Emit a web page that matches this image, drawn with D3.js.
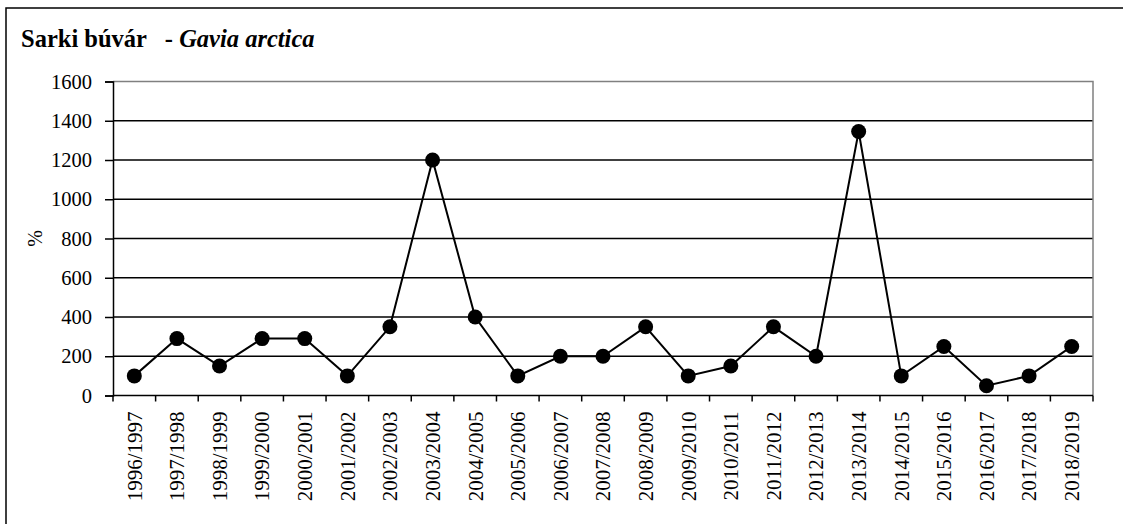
<!DOCTYPE html>
<html><head><meta charset="utf-8">
<script src="https://cdn.jsdelivr.net/npm/d3@7/dist/d3.min.js"></script>
<style>body{margin:0;background:#fff}svg{display:block}</style>
</head><body>
<script>
const categories = ["1996/1997","1997/1998","1998/1999","1999/2000","2000/2001","2001/2002","2002/2003","2003/2004","2004/2005","2005/2006","2006/2007","2007/2008","2008/2009","2009/2010","2010/2011","2011/2012","2012/2013","2013/2014","2014/2015","2015/2016","2016/2017","2017/2018","2018/2019"];
const values = [100,290,150,290,290,100,350,1200,400,100,200,200,350,100,150,350,200,1345,100,250,50,100,250];
const yTicks = [0,200,400,600,800,1000,1200,1400,1600];
const titleMain = "Sarki búvár   - ";
const titleLatin = "Gavia arctica";
const yTitle = "%";

(function(){
const FONT = "'Liberation Serif', 'DejaVu Serif', serif";
const W = 1123, H = 524;
const svg = d3.select("body").append("svg").attr("width", W).attr("height", H)
  .attr("font-family", FONT).style("font-family", FONT);
svg.append("rect").attr("x",6).attr("y",8).attr("width",1130).attr("height",530)
  .attr("fill","#fff").attr("stroke","#000").attr("stroke-width",1.5);

const pl = 113, pr = 1093, pt = 81.5, pb = 395.5;
const x = d3.scaleBand().domain(categories).range([pl, pr]).paddingInner(0).paddingOuter(0);
const y = d3.scaleLinear().domain([0,1600]).range([pb, pt]);

svg.append("g").selectAll("line").data(yTicks.filter(d=>d>0 && d<1600)).join("line")
  .attr("x1",pl).attr("x2",pr).attr("y1",d=>y(d)).attr("y2",d=>y(d))
  .attr("stroke","#000").attr("stroke-width",1.3);
svg.append("path").attr("d",`M${pl},${y(1600)}H${pr}V${pb}`)
  .attr("fill","none").attr("stroke","#808080").attr("stroke-width",1.5);

const yAxis = svg.append("g").attr("transform",`translate(${pl},0)`)
  .call(d3.axisLeft(y).tickValues(yTicks).tickSize(8).tickPadding(13).tickFormat(d3.format("d")));
yAxis.attr("font-family", FONT).attr("font-size", 20);
yAxis.select(".domain").attr("stroke","#000").attr("stroke-width",1.5);
yAxis.selectAll(".tick line").attr("stroke","#000").attr("stroke-width",1.5);
yAxis.selectAll("text").attr("fill","#000").style("font-family", FONT).style("font-size","20.5px");

const xAxisG = svg.append("g").attr("transform",`translate(0,${pb})`);
xAxisG.append("line").attr("x1",pl).attr("x2",pr).attr("stroke","#000").attr("stroke-width",1.5);
const bounds = categories.map(c=>x(c)).concat([pr]);
xAxisG.selectAll("line.t").data(bounds).join("line").attr("class","t")
  .attr("x1",d=>d).attr("x2",d=>d).attr("y1",0).attr("y2",6).attr("stroke","#000").attr("stroke-width",1.5);
xAxisG.selectAll("text").data(categories).join("text")
  .attr("transform",d=>`translate(${x(d)+x.bandwidth()/2},16) rotate(-90)`)
  .attr("text-anchor","end").attr("dy","0.35em")
  .style("font-family", FONT).style("font-size","21px").text(d=>d);

const line = d3.line().x((d,i)=>x(categories[i])+x.bandwidth()/2).y(d=>y(d));
svg.append("path").datum(values).attr("d",line).attr("fill","none").attr("stroke","#000").attr("stroke-width",2);
svg.append("g").selectAll("circle").data(values).join("circle")
  .attr("cx",(d,i)=>x(categories[i])+x.bandwidth()/2).attr("cy",d=>y(d)).attr("r",7.5).attr("fill","#000");

const t = svg.append("text").attr("x",21).attr("y",46.5)
  .style("font-family", FONT).style("font-size","24.5px").style("font-weight","bold").style("white-space","pre");
t.append("tspan").text(titleMain);
t.append("tspan").text(titleLatin).style("font-style","italic");
svg.append("text").attr("transform",`translate(42,${(pt+pb)/2}) rotate(-90)`)
  .attr("text-anchor","middle").style("font-family", FONT).style("font-size","20px").text(yTitle);
})();
</script>
</body></html>
